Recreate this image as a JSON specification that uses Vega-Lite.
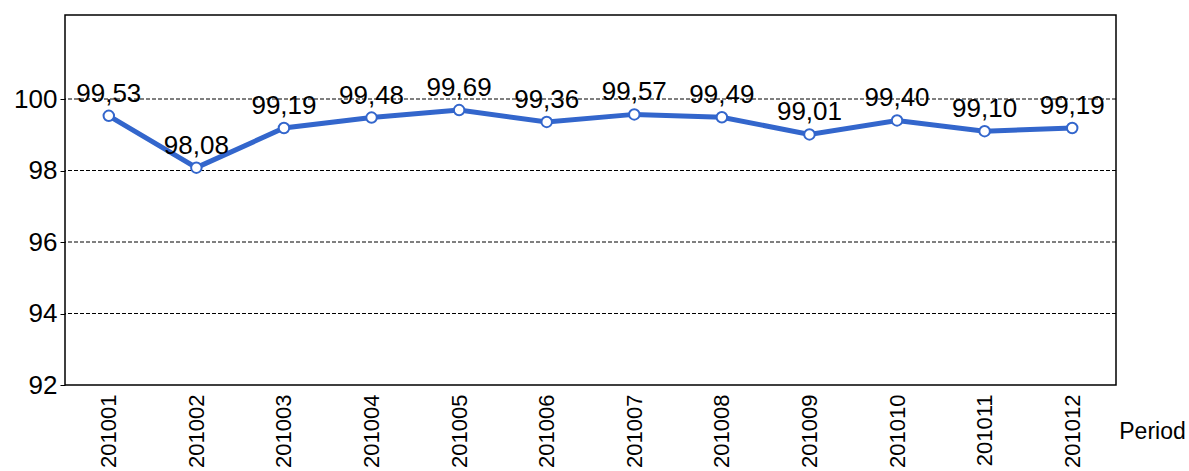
{
  "$schema": "https://vega.github.io/schema/vega-lite/v6.json",
  "width": 1051,
  "height": 370,
  "autosize": "none",
  "padding": {"left": 65, "top": 15, "right": 73, "bottom": 86},
  "background": "white",
  "data": {
    "values": [
      {"Period": "201001", "Value": 99.53},
      {"Period": "201002", "Value": 98.08},
      {"Period": "201003", "Value": 99.19},
      {"Period": "201004", "Value": 99.48},
      {"Period": "201005", "Value": 99.69},
      {"Period": "201006", "Value": 99.36},
      {"Period": "201007", "Value": 99.57},
      {"Period": "201008", "Value": 99.49},
      {"Period": "201009", "Value": 99.01},
      {"Period": "201010", "Value": 99.40},
      {"Period": "201011", "Value": 99.10},
      {"Period": "201012", "Value": 99.19}
    ]
  },
  "config": {
    "locale": {"number": {"decimal": ",", "thousands": ".", "grouping": [3], "currency": ["", ""]}},
    "font": "Liberation Sans",
    "view": {"stroke": "black", "strokeWidth": 1.5}
  },
  "encoding": {
    "x": {
      "field": "Period",
      "type": "ordinal",
      "scale": {"type": "point", "padding": 0.5},
      "axis": {
        "title": "Period",
        "titleFont": "Liberation Sans",
        "titleFontSize": 23,
        "titleFontWeight": "normal",
        "titleColor": "black",
        "titleX": 1087,
        "titleY": 46,
        "titleAlign": "center",
        "titleBaseline": "middle",
        "titleAnchor": null,
        "labelAngle": -90,
        "labelAlign": "right",
        "labelBaseline": "middle",
        "labelFont": "Liberation Sans",
        "labelFontSize": 22,
        "labelColor": "black",
        "labelPadding": 9,
        "ticks": false,
        "domain": false,
        "grid": false
      }
    },
    "y": {
      "field": "Value",
      "type": "quantitative",
      "scale": {"domain": [92, 102.35], "nice": false, "zero": false},
      "axis": {
        "title": null,
        "values": [92, 94, 96, 98, 100],
        "labelFont": "Liberation Sans",
        "labelFontSize": 26,
        "labelColor": "black",
        "tickColor": "black",
        "tickSize": 5,
        "labelPadding": 3,
        "domain": false,
        "grid": false
      }
    }
  },
  "layer": [
    {
      "data": {"values": [{"g": 94}, {"g": 96}, {"g": 98}, {"g": 100}]},
      "mark": {"type": "rule", "color": "black", "strokeWidth": 1, "strokeDash": [4, 2]},
      "encoding": {"y": {"field": "g", "type": "quantitative"}, "x": null}
    },
    {
      "mark": {"type": "line", "color": "#3366CC", "strokeWidth": 5}
    },
    {
      "mark": {"type": "point", "shape": "circle", "filled": true, "fill": "white", "stroke": "#3366CC", "strokeWidth": 2, "size": 110, "opacity": 1}
    },
    {
      "mark": {"type": "text", "font": "Liberation Sans", "fontSize": 26, "color": "black", "baseline": "alphabetic", "dy": -14},
      "encoding": {"text": {"field": "Value", "type": "quantitative", "format": ".2f"}}
    }
  ]
}
